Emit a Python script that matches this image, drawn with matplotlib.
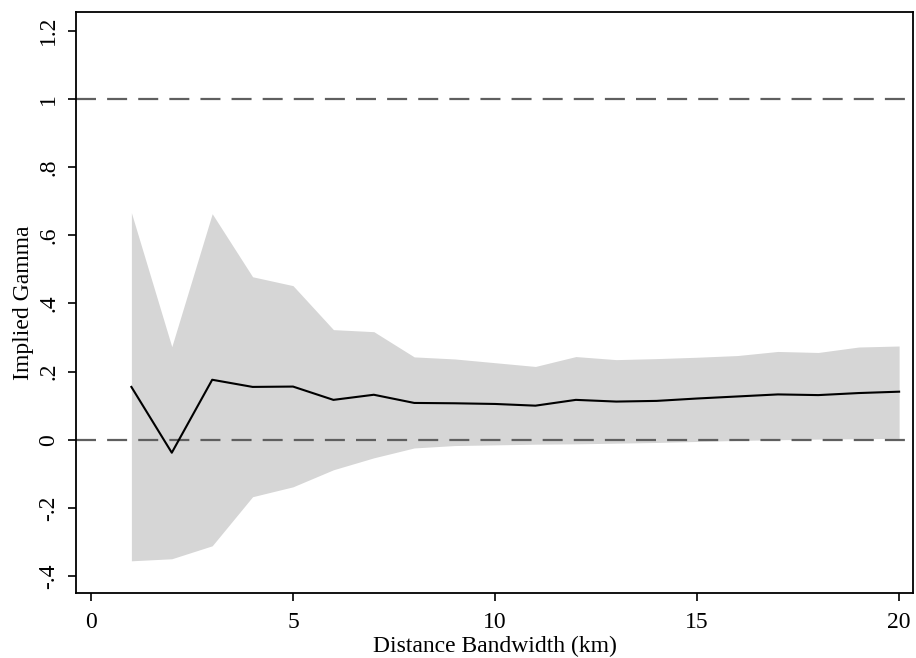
import matplotlib
matplotlib.use('Agg')
from matplotlib import pyplot as plt

# bandwidth (km) and estimates
bandwidth = [1, 2, 3, 4, 5, 6, 7, 8, 9, 10, 11, 12, 13, 14, 15, 16, 17, 18, 19, 20]
gamma = [0.155, -0.038, 0.176, 0.155, 0.156, 0.117, 0.132, 0.108, 0.107, 0.105,
         0.100, 0.117, 0.112, 0.114, 0.121, 0.127, 0.133, 0.131, 0.137, 0.141]
upper = [0.666, 0.273, 0.663, 0.478, 0.452, 0.323, 0.317, 0.243, 0.237, 0.226,
         0.215, 0.244, 0.235, 0.238, 0.242, 0.247, 0.259, 0.256, 0.272, 0.275]
lower = [-0.355, -0.349, -0.311, -0.167, -0.138, -0.088, -0.053, -0.024, -0.017, -0.015,
         -0.013, -0.012, -0.010, -0.008, -0.005, -0.002, 0.000, 0.002, 0.003, 0.004]

yticks = [-0.4, -0.2, 0, 0.2, 0.4, 0.6, 0.8, 1, 1.2]
ytick_labels = ['-.4', '-.2', '0', '.2', '.4', '.6', '.8', '1', '1.2']
xticks = [0, 5, 10, 15, 20]

plt.rcParams['font.family'] = ['Liberation Serif', 'DejaVu Serif']

fig = plt.figure(figsize=(9.16, 6.58), dpi=100)
ax = fig.add_axes([0.083, 0.099, 0.914, 0.883])

# confidence band
ax.fill_between(bandwidth, lower, upper, color='#d6d6d6', linewidth=0, zorder=1)
# reference lines at 0 and 1
for h in [0, 1]:
    ax.axhline(h, color='#5f5f5f', linewidth=1.6, dashes=(9, 5), zorder=2)
ax.plot(bandwidth, gamma, color='black', linewidth=1.5, zorder=3)

ax.set_xlim(-0.37, 20.35)
ax.set_ylim(-0.449, 1.255)
ax.set_xticks(xticks)
ax.set_yticks(yticks)
ax.set_yticklabels(ytick_labels, rotation=90, va='center')
ax.tick_params(axis='both', direction='out', length=6, width=1.2, labelsize=17, color='black')
ax.tick_params(axis='y', pad=6)
ax.tick_params(axis='x', pad=8)
for s in ax.spines.values():
    s.set_linewidth(1.3)

ax.set_xlabel('Distance Bandwidth (km)', fontsize=17, labelpad=2)
ax.set_ylabel('Implied Gamma', fontsize=17, labelpad=3)

plt.savefig('out.png', dpi=100)
